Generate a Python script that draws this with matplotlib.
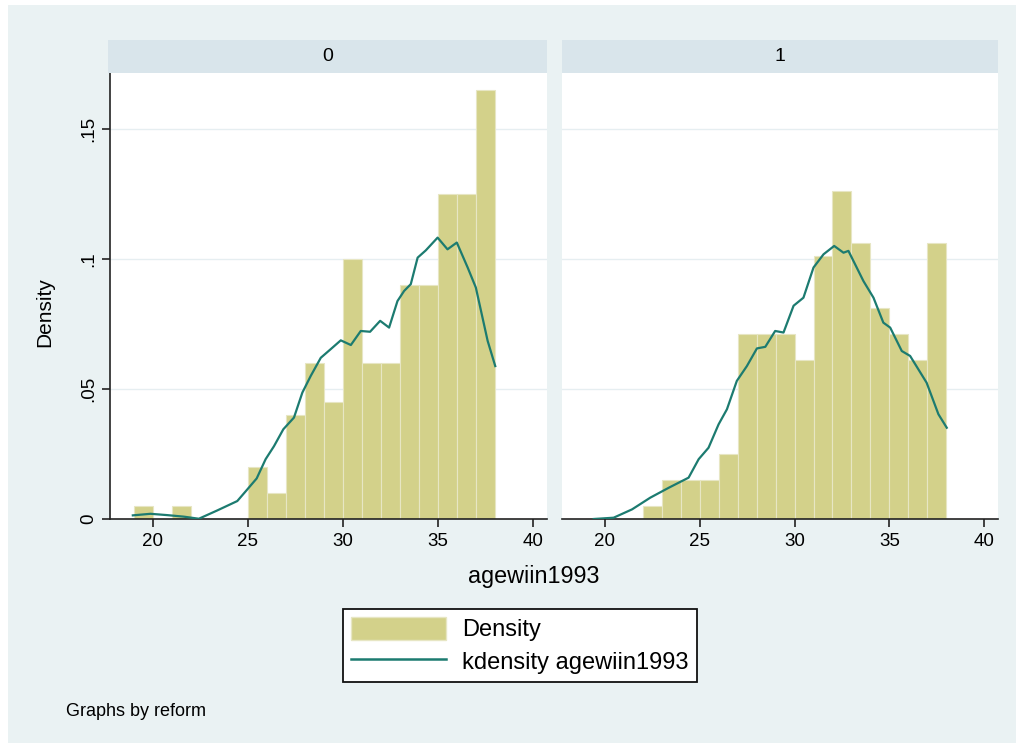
import matplotlib.pyplot as plt
from matplotlib.patches import Rectangle, Patch
from matplotlib.lines import Line2D

plt.rcParams['font.family'] = ['Liberation Sans', 'DejaVu Sans']

# histogram bins (left edges, width 1 year)
bin_left = [19, 20, 21, 22, 23, 24, 25, 26, 27, 28, 29, 30, 31, 32, 33, 34, 35, 36, 37]
dens_0 = [0.005, 0, 0.005, 0, 0, 0, 0.020, 0.010, 0.040, 0.060, 0.045, 0.100,
          0.060, 0.060, 0.090, 0.090, 0.125, 0.125, 0.165]
dens_1 = [0, 0, 0, 0.005, 0.015, 0.015, 0.015, 0.025, 0.071, 0.071, 0.071, 0.061,
          0.101, 0.126, 0.106, 0.081, 0.071, 0.061, 0.106]

# kernel density curves
kx_0 = [18.95, 19.88, 20.75, 21.63, 22.42, 23.39, 24.44, 24.97, 25.46, 25.93, 26.37,
        26.86, 27.42, 27.86, 28.30, 28.83, 29.35, 29.88, 30.41, 30.93, 31.42, 31.95,
        32.42, 32.86, 33.21, 33.56, 33.92, 34.35, 34.97, 35.49, 35.98, 36.55, 36.98,
        37.60, 38.00]
ky_0 = [0.0014, 0.0020, 0.0015, 0.0009, 0.0001, 0.0033, 0.0069, 0.0114, 0.0156, 0.0230,
        0.0280, 0.0345, 0.0390, 0.0486, 0.0550, 0.0620, 0.0653, 0.0687, 0.0669, 0.0723,
        0.0720, 0.0762, 0.0736, 0.0838, 0.0877, 0.0903, 0.1005, 0.1033, 0.1082, 0.1037,
        0.1063, 0.0967, 0.0890, 0.0685, 0.0588]
kx_1 = [19.42, 20.47, 21.44, 22.40, 23.37, 24.42, 24.95, 25.47, 26.00, 26.44, 26.96,
        27.49, 28.02, 28.46, 28.98, 29.42, 29.95, 30.47, 31.00, 31.53, 32.09, 32.58,
        32.84, 33.63, 34.16, 34.68, 35.04, 35.65, 36.09, 36.96, 37.58, 38.02]
ky_1 = [0.0000, 0.0005, 0.0037, 0.0082, 0.0120, 0.0159, 0.0230, 0.0274, 0.0364, 0.0422,
        0.0531, 0.0588, 0.0656, 0.0662, 0.0723, 0.0717, 0.0820, 0.0851, 0.0967, 0.1018,
        0.1050, 0.1024, 0.1031, 0.0915, 0.0851, 0.0755, 0.0736, 0.0646, 0.0627, 0.0524,
        0.0403, 0.0351]

panels = ['0', '1']
xticks = [20, 25, 30, 35, 40]
yticks = [0, 0.05, 0.10, 0.15]
ytick_labels = ['0', '.05', '.1', '.15']

outer_bg = '#EAF2F3'
strip_bg = '#D9E5EB'
bar_col = '#D3D18A'
bar_edge = '#E7E6C4'
kde_col = '#1C7B70'

W, H = 1024, 749


def px(x0, y0, x1, y1):
    return [x0 / W, 1 - y1 / H, (x1 - x0) / W, (y1 - y0) / H]


fig = plt.figure(figsize=(10.24, 7.49), dpi=100, facecolor='white')
fig.patches.append(Rectangle((8 / W, 1 - 743 / H), 1008 / W, 738 / H,
                             transform=fig.transFigure, facecolor=outer_bg,
                             edgecolor='none', zorder=-5))

boxes = [(110, 547), (562, 998)]
data = [(dens_0, kx_0, ky_0), (dens_1, kx_1, ky_1)]

for i, (x0, x1) in enumerate(boxes):
    ax = fig.add_axes(px(x0, 73, x1, 519))
    dens, kx, ky = data[i]
    ax.bar(bin_left, dens, width=1, align='edge', color=bar_col,
           edgecolor=bar_edge, linewidth=0.8, zorder=2)
    ax.plot(kx, ky, color=kde_col, linewidth=1.6, zorder=3)
    ax.set_xlim(17.75, 40.72)
    ax.set_ylim(0, 0.1715)
    ax.set_xticks(xticks)
    ax.set_yticks(yticks)
    for y in yticks[1:]:
        ax.axhline(y, color='#E6EEF1', linewidth=1.0, zorder=1)
    for s in ['top', 'right']:
        ax.spines[s].set_visible(False)
    ax.spines['bottom'].set_linewidth(1.2)
    ax.spines['bottom'].set_color('#222222')
    ax.tick_params(axis='x', direction='out', length=6, width=1.2,
                   color='#222222', labelsize=13.5, pad=4)
    if i == 0:
        ax.spines['left'].set_linewidth(1.2)
        ax.spines['left'].set_color('#222222')
        ax.set_yticklabels(ytick_labels, rotation=90, va='center')
        ax.tick_params(axis='y', direction='out', length=6, width=1.2,
                       color='#222222', labelsize=13.5, pad=3)
    else:
        ax.spines['left'].set_visible(False)
        ax.tick_params(axis='y', left=False, labelleft=False)

    # strip on top of panel
    sx0 = x0 - 2 if i == 0 else x0
    st = fig.add_axes(px(sx0, 40, x1, 73))
    st.set_facecolor(strip_bg)
    st.set_xticks([])
    st.set_yticks([])
    for s in st.spines.values():
        s.set_visible(False)
    st.text(0.5, 0.5, panels[i], ha='center', va='center', fontsize=14,
            transform=st.transAxes)

fig.text(45 / W, 1 - 312 / H, 'Density', rotation=90, ha='center', va='center',
         fontsize=15)
fig.text(534 / W, 1 - 577 / H, 'agewiin1993', ha='center', va='center', fontsize=16.8)

handles = [Patch(facecolor=bar_col, edgecolor=bar_edge),
           Line2D([], [], color=kde_col, linewidth=1.8)]
leg = fig.legend(handles, ['Density', 'kdensity agewiin1993'], loc='center',
                 bbox_to_anchor=(520 / W, 1 - 645.5 / H), fontsize=17,
                 handlelength=4.0, handleheight=1.1, handletextpad=0.7,
                 borderpad=0.35, labelspacing=0.35, fancybox=False, framealpha=1)
leg.get_frame().set_edgecolor('#111111')
leg.get_frame().set_linewidth(1.3)

fig.text(66 / W, 1 - 711 / H, 'Graphs by reform', ha='left', va='center', fontsize=13)

fig.savefig('out.png', dpi=100, facecolor='white')
